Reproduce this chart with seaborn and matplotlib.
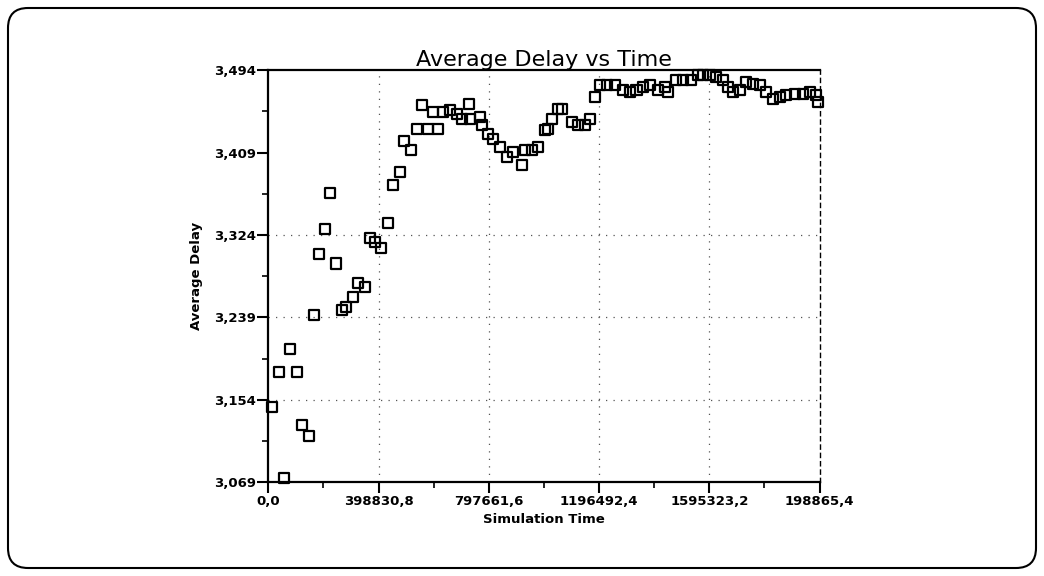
import matplotlib
matplotlib.use("Agg")
import matplotlib.pyplot as plt
from matplotlib.patches import FancyBboxPatch
from matplotlib.ticker import FixedLocator, FixedFormatter, AutoMinorLocator
import seaborn as sns
import pandas as pd

# ---- data ----
sim_time = [13400, 37210, 57800, 79480, 103680, 121750, 145590, 163650, 184240, 205920,
            221450, 244570, 266250, 281780, 308160, 326220, 351500, 368490, 386550, 407140,
            434600, 452660, 476860, 491310, 515520, 537190, 555250, 579100, 594990, 615220,
            633290, 657490, 681700, 699760, 727220, 729740, 765870, 772010, 795850, 813910,
            838120, 862320, 886160, 916510, 928430, 952640, 976480, 1000690, 1012610, 1024900,
            1048740, 1061020, 1097150, 1120990, 1145200, 1163260, 1181320, 1199390, 1223590, 1253570,
            1283560, 1307760, 1331970, 1355810, 1380010, 1409990, 1434200, 1446120, 1476470, 1500310,
            1530650, 1554500, 1572560, 1596770, 1620970, 1644810, 1662880, 1680940, 1705150, 1729350,
            1753200, 1777400, 1801600, 1825450, 1849650, 1873860, 1903840, 1933830, 1958030, 1982240,
            1990000]
avg_delay = [3.1467, 3.1828, 3.0731, 3.2059, 3.1828, 3.1278, 3.1164, 3.2413, 3.3049, 3.3300,
             3.3678, 3.2946, 3.2471, 3.2498, 3.2601, 3.2746, 3.2705, 3.3210, 3.3169, 3.3101,
             3.3365, 3.3754, 3.3891, 3.4211, 3.4122, 3.4339, 3.4579, 3.4339, 3.4510, 3.4339,
             3.4510, 3.4527, 3.4493, 3.4442, 3.4596, 3.4442, 3.4458, 3.4373, 3.4287, 3.4235,
             3.4149, 3.4046, 3.4097, 3.3960, 3.4115, 3.4115, 3.4149, 3.4321, 3.4339, 3.4442,
             3.4545, 3.4545, 3.4407, 3.4373, 3.4373, 3.4442, 3.4665, 3.4785, 3.4785, 3.4785,
             3.4734, 3.4716, 3.4734, 3.4768, 3.4785, 3.4734, 3.4768, 3.4716, 3.4837, 3.4837,
             3.4837, 3.4888, 3.4888, 3.4888, 3.4871, 3.4837, 3.4768, 3.4716, 3.4734, 3.4819,
             3.4803, 3.4785, 3.4716, 3.4648, 3.4665, 3.4682, 3.4700, 3.4700, 3.4716, 3.4682,
             3.4613]

y_tick_values = [3.069, 3.154, 3.239, 3.324, 3.409, 3.494]
y_tick_labels = ["3,069", "3,154", "3,239", "3,324", "3,409", "3,494"]
x_tick_values = [0.0, 398830.8, 797661.6, 1196492.4, 1595323.2, 1994154.0]
x_tick_labels = ["0,0", "398830,8", "797661,6", "1196492,4", "1595323,2", "198865,4"]

title_text = "Average Delay vs Time"
x_label = "Simulation Time"
y_label = "Average Delay"

df = pd.DataFrame({"time": sim_time, "delay": avg_delay})

sns.set_theme(style="white")
plt.rcParams["font.family"] = ["DejaVu Sans"]

fig = plt.figure(figsize=(10.44, 5.76), dpi=100)
ax = fig.add_axes([0.257, 0.163, 0.785 - 0.257, 0.878 - 0.163])

sns.scatterplot(data=df, x="time", y="delay", ax=ax, marker="s", s=52,
                facecolor="none", edgecolor="black", linewidth=1.6, clip_on=False,
                legend=False, zorder=3)

ax.set_xlim(x_tick_values[0], x_tick_values[-1])
ax.set_ylim(y_tick_values[0], y_tick_values[-1])

ax.xaxis.set_major_locator(FixedLocator(x_tick_values))
ax.xaxis.set_major_formatter(FixedFormatter(x_tick_labels))
ax.yaxis.set_major_locator(FixedLocator(y_tick_values))
ax.yaxis.set_major_formatter(FixedFormatter(y_tick_labels))
ax.xaxis.set_minor_locator(AutoMinorLocator(2))
ax.yaxis.set_minor_locator(AutoMinorLocator(2))

ax.tick_params(axis="both", which="major", direction="out", length=8, width=1.5,
               colors="black", labelsize=9.5, pad=1)
ax.tick_params(axis="both", which="minor", direction="out", length=4, width=1.2,
               colors="black")
ax.tick_params(axis="x", which="both", bottom=True)
ax.tick_params(axis="y", which="both", left=True)
for lbl in ax.get_xticklabels() + ax.get_yticklabels():
    lbl.set_fontweight("bold")

ax.grid(True, which="major", linestyle=(0, (1, 5)), color="#555555", linewidth=0.9)
ygl = ax.get_ygridlines()
for i, v in enumerate(y_tick_values):
    if v in (3.069, 3.409, 3.494):
        ygl[i].set_visible(False)
xgl = ax.get_xgridlines()
xgl[0].set_visible(False)
xgl[-1].set_visible(False)

for side in ("left", "bottom", "top"):
    ax.spines[side].set_visible(True)
    ax.spines[side].set_color("black")
    ax.spines[side].set_linewidth(1.6)
ax.spines["right"].set_visible(True)
ax.spines["right"].set_color("black")
ax.spines["right"].set_linewidth(1.0)
ax.spines["right"].set_linestyle((0, (3, 3)))

ax.set_title(title_text, fontsize=16, pad=3, color="black")
ax.set_xlabel(x_label, fontsize=9.5, fontweight="bold", labelpad=4, color="black")
ax.set_ylabel(y_label, fontsize=9.5, fontweight="bold", labelpad=8, color="black")

border = FancyBboxPatch((0.08, 0.08), 10.28, 5.6,
                        boxstyle="round,pad=0,rounding_size=0.2",
                        transform=fig.dpi_scale_trans, fill=False,
                        edgecolor="black", linewidth=1.5)
fig.patches.append(border)

fig.savefig("out.png", dpi=100, facecolor="white")
